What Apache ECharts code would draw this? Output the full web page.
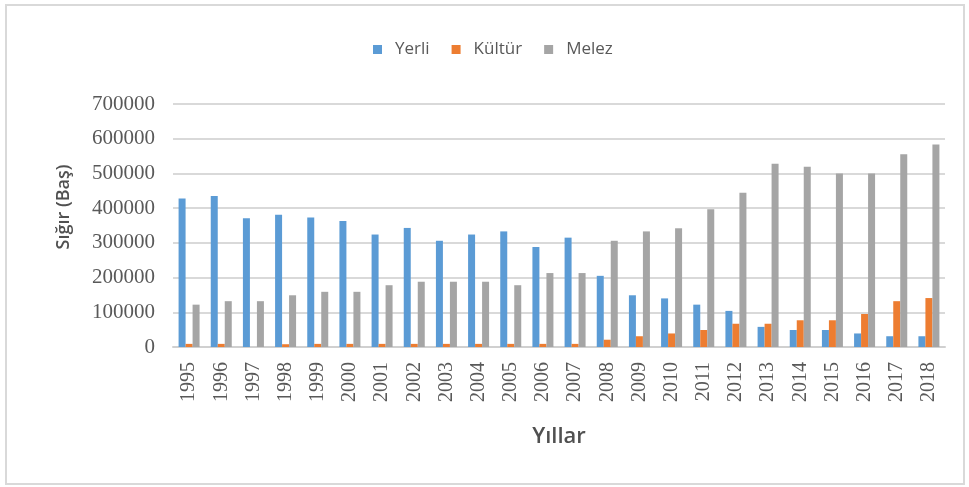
<!DOCTYPE html>
<html>
<head>
<meta charset="utf-8">
<script src="https://cdn.jsdelivr.net/npm/echarts@6/dist/echarts.min.js"></script>
<style>
html,body{margin:0;padding:0;background:#fff;}
#chart{width:969px;height:487px;}
</style>
</head>
<body>
<div id="chart"></div>
<script>
const years = ['1995','1996','1997','1998','1999','2000','2001','2002','2003','2004','2005','2006','2007','2008','2009','2010','2011','2012','2013','2014','2015','2016','2017','2018'];
const yerli = [428000,435000,371000,381000,373000,363000,324000,343000,306000,324000,333000,288000,315000,205000,149000,140000,122000,104000,58000,49000,49000,39000,31000,31000];
const kultur = [9000,9000,0,8000,9000,9000,9000,9000,9000,9000,9000,9000,9000,21000,31000,39000,49000,67000,67000,77000,77000,95000,132000,141000];
const melez = [122000,132000,132000,149000,159000,159000,178000,188000,188000,188000,178000,213000,213000,306000,333000,342000,397000,444000,528000,519000,500000,500000,555000,583000];
const seriesNames = ['Yerli','Kültür','Melez'];
const yTitle = 'Sığır (Baş)';
const xTitle = 'Yıllar';

const chart = echarts.init(document.getElementById('chart'), null, {renderer:'canvas'});
const serif = '"Liberation Serif", "DejaVu Serif", serif';
const sans = '"Open Sans", "Liberation Sans", sans-serif';
const colors = ['#5B9BD5','#ED7D31','#A5A5A5'];
const vals = [yerli, kultur, melez];

chart.setOption({
  animation:false,
  backgroundColor:'#ffffff',
  color:colors,
  legend:{
    left:368, top:36,
    itemWidth:9, itemHeight:9, itemGap:22,
    icon:'rect',
    textStyle:{fontFamily:sans, fontSize:17, color:'#595959', padding:[0,0,0,8]},
    data:seriesNames
  },
  grid:{left:173, right:24, top:104, bottom:140, containLabel:false},
  xAxis:{
    type:'category',
    data:years,
    axisLine:{lineStyle:{color:'#d0d0d0', width:2}},
    axisTick:{show:false},
    axisLabel:{rotate:90, fontFamily:serif, fontSize:20, color:'#595959', margin:15, interval:0}
  },
  yAxis:{
    type:'value',
    min:0, max:700000, interval:100000,
    axisLine:{show:false},
    axisTick:{show:false},
    splitLine:{lineStyle:{color:'#d9d9d9', width:2}},
    axisLabel:{fontFamily:serif, fontSize:21, color:'#595959', margin:18, formatter:v=>String(v)}
  },
  graphic:[
    {type:'rect', shape:{x:6,y:5,width:958,height:479}, style:{fill:'none', stroke:'#d9d9d9', lineWidth:2}, silent:true},
    {type:'text', x:64, y:207, rotation:Math.PI/2, style:{text:yTitle, fontFamily:sans, fontSize:18, fontWeight:600, fill:'#505050', align:'center', verticalAlign:'middle'}},
    {type:'text', x:559, y:437, style:{text:xTitle, fontFamily:sans, fontSize:22, fontWeight:600, fill:'#505050', align:'center', verticalAlign:'middle'}}
  ],
  series: seriesNames.map((n,i)=>({
    name:n, type:'bar', data:vals[i],
    barWidth:7, barGap:'0%',
    itemStyle:{color:colors[i]}
  }))
});
</script>
</body>
</html>
